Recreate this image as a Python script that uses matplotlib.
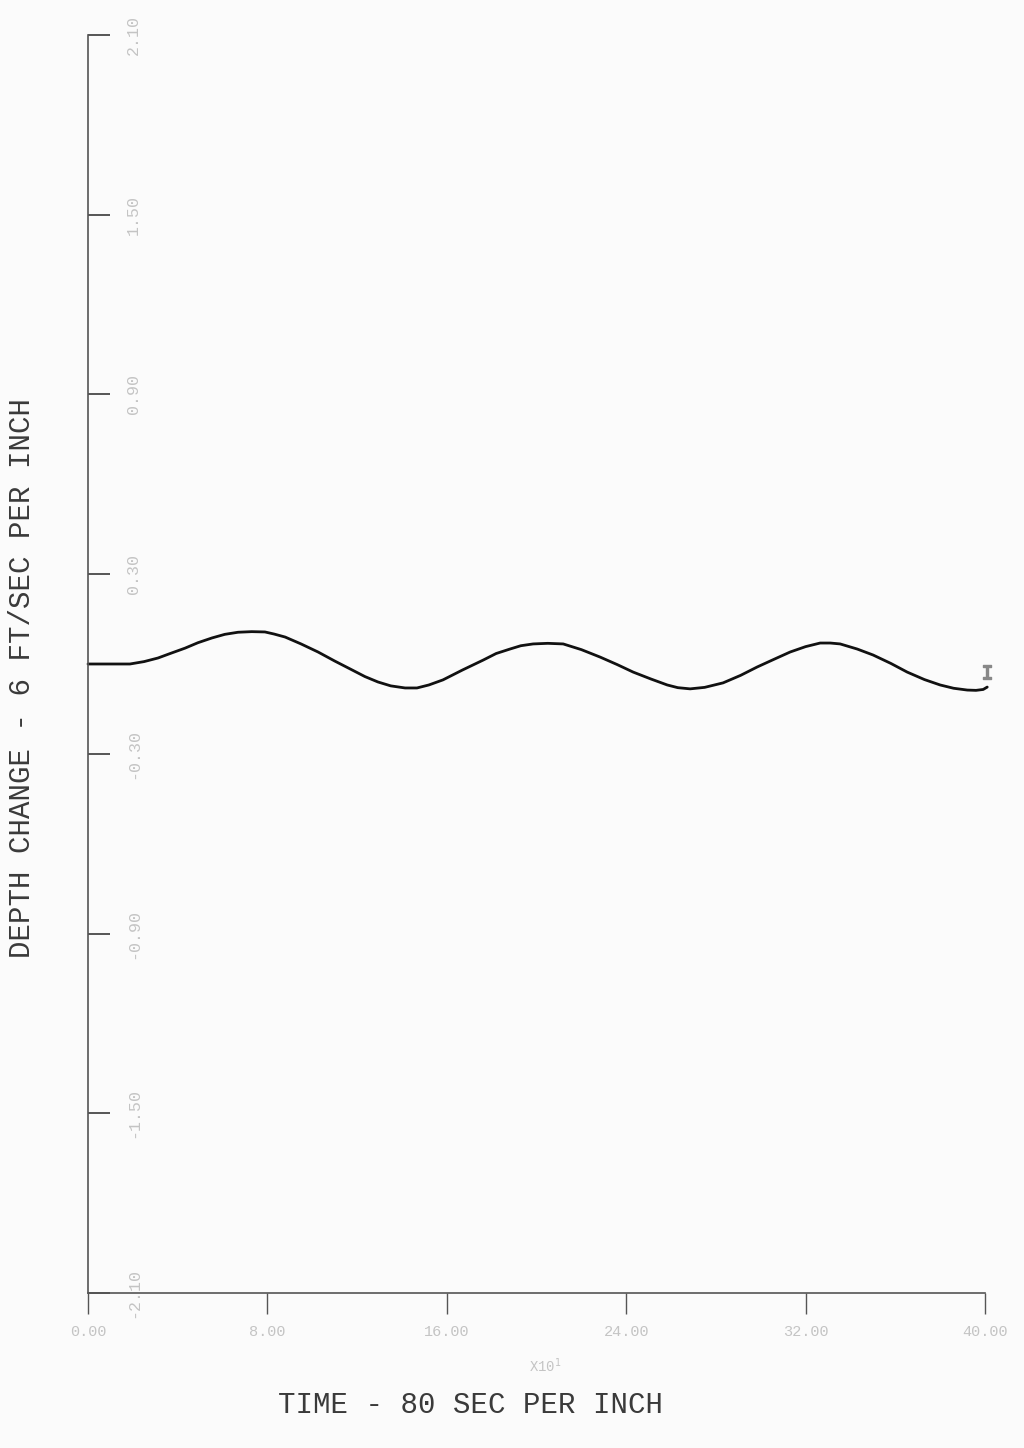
import matplotlib
matplotlib.use("Agg")
import matplotlib.pyplot as plt

# Depth change response (time in units of 10 s, depth change in ft/sec)
time = [0.0, 1.87, 2.5, 3.12, 3.7, 4.33, 4.9, 5.53, 6.1, 6.69, 7.3, 7.89, 8.3,
        8.79, 9.5, 10.26, 11.0, 11.78, 12.35, 12.93, 13.5, 14.14, 14.67, 15.2,
        15.83, 16.7, 17.62, 18.2, 18.82, 19.3, 19.85, 20.5, 21.19, 22.0, 22.84,
        23.6, 24.31, 25.1, 25.83, 26.3, 26.85, 27.5, 28.32, 29.1, 29.84, 30.6,
        31.31, 32.0, 32.65, 33.1, 33.54, 34.3, 35.01, 35.8, 36.53, 37.3, 38.0,
        38.6, 39.21, 39.6, 39.92, 40.1]
depth_change = [0.0, 0.0, 0.008, 0.020, 0.036, 0.053, 0.071, 0.087, 0.099,
                0.106, 0.108, 0.107, 0.100, 0.090, 0.067, 0.040, 0.010, -0.020,
                -0.042, -0.060, -0.073, -0.080, -0.080, -0.070, -0.053, -0.020,
                0.013, 0.035, 0.050, 0.061, 0.067, 0.069, 0.067, 0.048, 0.023,
                -0.002, -0.027, -0.050, -0.070, -0.079, -0.083, -0.078, -0.063,
                -0.038, -0.010, 0.016, 0.040, 0.058, 0.070, 0.070, 0.067, 0.050,
                0.030, 0.002, -0.027, -0.052, -0.070, -0.081, -0.087, -0.088,
                -0.085, -0.077]

x_ticks = [0, 8, 16, 24, 32, 40]
x_tick_labels = ["0.00", "8.00", "16.00", "24.00", "32.00", "40.00"]
y_ticks = [-2.10, -1.50, -0.90, -0.30, 0.30, 0.90, 1.50, 2.10]
y_tick_labels = ["-2.10", "-1.50", "-0.90", "-0.30", "0.30", "0.90", "1.50", "2.10"]

mono = "Liberation Mono"
faint = "#c4c4c4"
axis_col = "#555555"
paper = "#fbfbfb"

fig = plt.figure(figsize=(10.24, 14.48), dpi=100, facecolor=paper)
ax = fig.add_axes([88 / 1024, 1 - 1293 / 1448, (985 - 88) / 1024, (1293 - 35) / 1448])
ax.set_facecolor(paper)

ax.plot(time, depth_change, color="#111111", lw=2.0, clip_on=False,
        solid_joinstyle="round", solid_capstyle="round")

ax.set_xlim(0, 40)
ax.set_ylim(-2.10, 2.10)

for side in ("top", "right"):
    ax.spines[side].set_visible(False)
for side in ("left", "bottom"):
    ax.spines[side].set_color(axis_col)
    ax.spines[side].set_linewidth(1.2)

ax.set_yticks(y_ticks)
ax.set_yticklabels(y_tick_labels, rotation=90, va="center", fontfamily=mono,
                   fontsize=12, color=faint)
ax.tick_params(axis="y", direction="in", length=16, width=1.4, color=axis_col,
               pad=-38)

ax.set_xticks(x_ticks)
ax.set_xticklabels(x_tick_labels, fontfamily=mono, fontsize=11, color=faint)
ax.tick_params(axis="x", direction="out", length=15, width=1.0, color=axis_col,
               pad=8)

# Exponent note under the time axis
fig.text(545 / 1024, 1 - 1366 / 1448, "X10$^{1}$", fontfamily=mono, fontsize=10,
         color=faint, ha="center", va="center")

# Plotting symbol at the end of the trace
ax.plot([time[-1]], [depth_change[-1] + 0.05], marker="$\\mathtt{I}$",
        color="#888888", markersize=10, clip_on=False)

fig.text(22 / 1024, 1 - 678 / 1448, "DEPTH CHANGE - 6 FT/SEC PER INCH",
         rotation=90, ha="center", va="center", fontfamily=mono, fontsize=21,
         color="#3a3a3a")
fig.text(470 / 1024, 1 - 1405 / 1448, "TIME - 80 SEC PER INCH",
         ha="center", va="center", fontfamily=mono, fontsize=21, color="#3a3a3a")

fig.savefig("out.png", dpi=100, facecolor=paper)
